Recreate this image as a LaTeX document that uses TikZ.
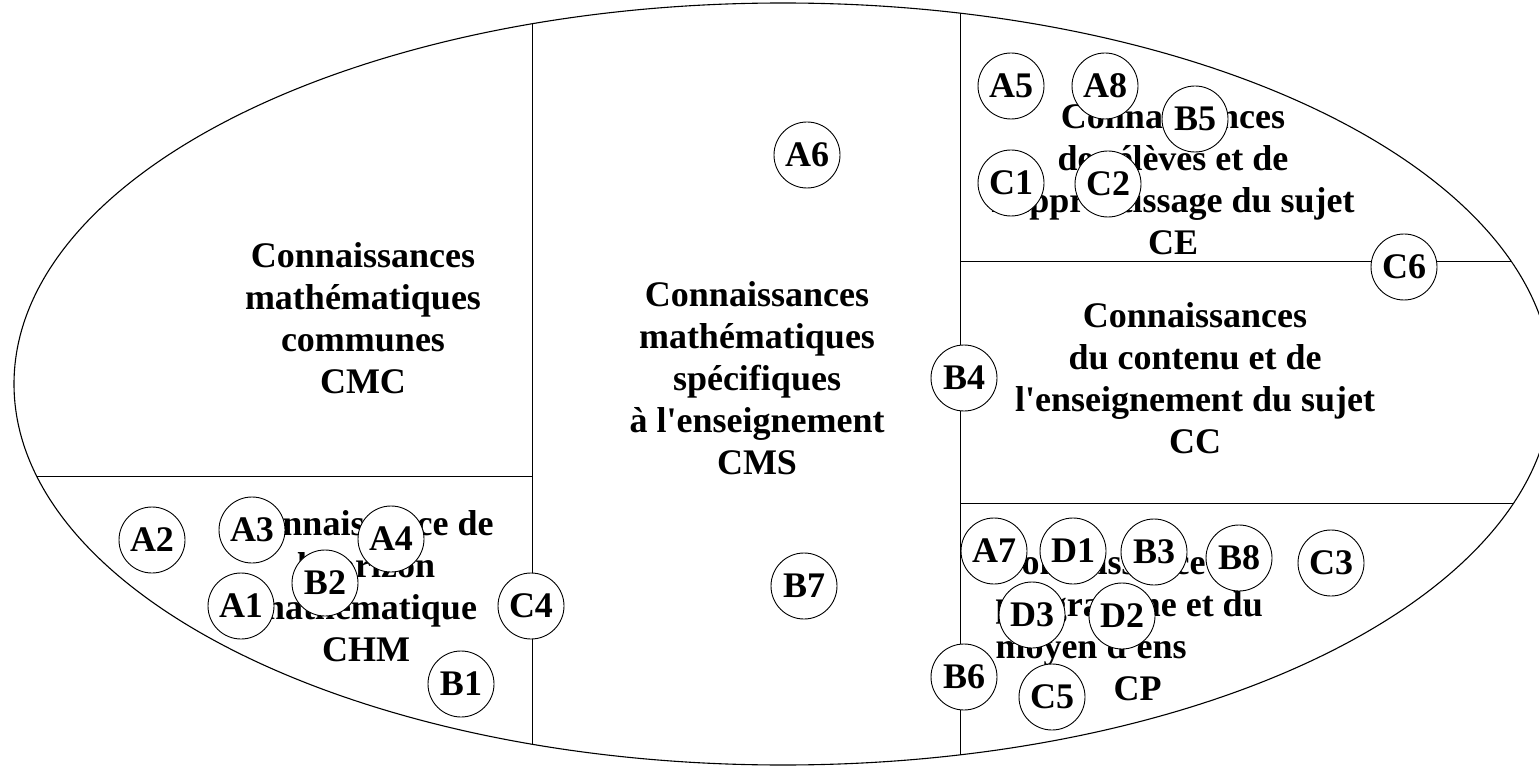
\documentclass[tikz,border=0pt]{standalone}
\usepackage{fontspec}
\setmainfont{Liberation Serif}
\newcommand{\myapos}{\textquotesingle}
\begin{document}
\begin{tikzpicture}[x=1pt,y=-1pt,line width=1pt,
  txt/.style={font=\bfseries\fontsize{36}{42}\selectfont,align=center,inner sep=0pt},
  lab/.style={circle,draw,fill=white,minimum size=66pt,inner sep=0pt,
    font=\bfseries\fontsize{36}{36}\selectfont,line width=0.9pt}]
\useasboundingbox (0,0) rectangle (1539,767);
% outer ellipse
\draw[line width=1.1pt] (783,384) ellipse [x radius=769pt, y radius=381pt];
% divider end points (on the ellipse)
\coordinate (lt) at (532,24);
\coordinate (lb) at (532,744);
\coordinate (ll) at (37,476);
\coordinate (lm) at (532,476);
\coordinate (rt) at (960,13);
\coordinate (rb) at (960,755);
\coordinate (ru1) at (960,262);
\coordinate (ru2) at (1512,262);
\coordinate (rd1) at (960,503);
\coordinate (rd2) at (1514,503);
\draw (lt) -- (lb);
\draw (ll) -- (lm);
\draw (rt) -- (rb);
\draw (ru1) -- (ru2);
\draw (rd1) -- (rd2);
% region texts
\node[txt] (cmc) at (363,318) {Connaissances\\math\'ematiques\\communes\\CMC};
\node[txt] (cms) at (757,378) {Connaissances\\math\'ematiques\\sp\'ecifiques\\\`a l\myapos enseignement\\CMS};
\node[txt] (ce) at (1173,179) {Connaissances\\des \'el\`eves et de\\l\myapos apprentissage du sujet\\CE};
\node[txt] (cc) at (1195,378) {Connaissances\\du contenu et de\\l\myapos enseignement du sujet\\CC};
\node[txt] (chm) at (366,586) {Connaissance de\\l\myapos horizon\\math\'ematique\\CHM};
\node[txt,align=left,anchor=west] (cp) at (995,625) {Connaissance du\\programme et du\\moyen d\myapos ens\\\hspace*{118pt}CP};
% labels
\node[lab] (A2) at (152,540) {A2};
\node[lab] (A3) at (252,530) {A3};
\node[lab] (A4) at (391,539) {A4};
\node[lab] (B2) at (325,583) {B2};
\node[lab] (A1) at (241,606) {A1};
\node[lab] (C4) at (531,606) {C4};
\node[lab] (B1) at (461,684) {B1};
\node[lab] (A6) at (807,155) {A6};
\node[lab] (B7) at (804,586) {B7};
\node[lab] (A5) at (1011,86) {A5};
\node[lab] (A8) at (1105,86) {A8};
\node[lab] (B5) at (1195,119) {B5};
\node[lab] (C1) at (1011,183) {C1};
\node[lab] (C2) at (1108,184) {C2};
\node[lab] (C6) at (1404,267) {C6};
\node[lab] (B4) at (964,378) {B4};
\node[lab] (A7) at (994,551) {A7};
\node[lab] (D1) at (1073,551) {D1};
\node[lab] (B3) at (1154,552) {B3};
\node[lab] (B8) at (1239,558) {B8};
\node[lab] (C3) at (1331,563) {C3};
\node[lab] (D3) at (1032,615) {D3};
\node[lab] (D2) at (1122,616) {D2};
\node[lab] (B6) at (964,677) {B6};
\node[lab] (C5) at (1052,697) {C5};
\end{tikzpicture}
\end{document}
